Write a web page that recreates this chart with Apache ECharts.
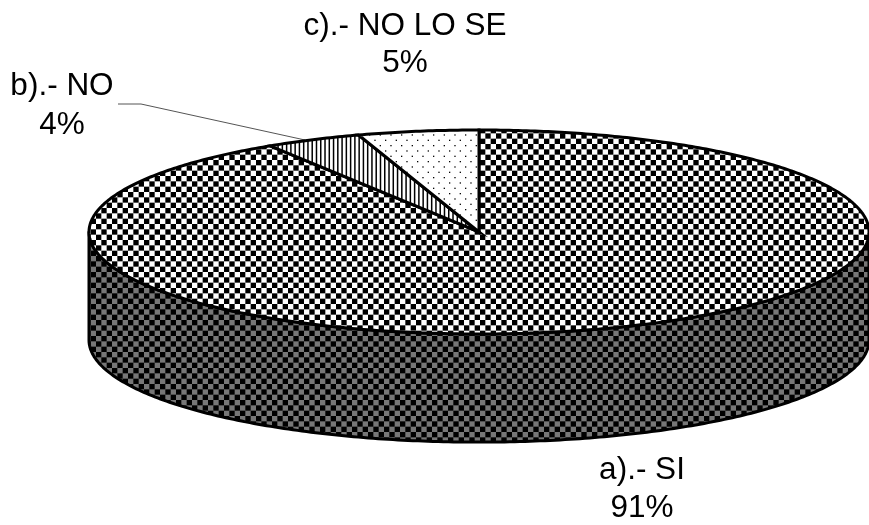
<!DOCTYPE html>
<html><head><meta charset="utf-8">
<style>html,body{margin:0;padding:0;background:#fff}#c{width:869px;height:525px}</style>
<script src="https://cdn.jsdelivr.net/npm/echarts@6/dist/echarts.min.js"></script>
</head><body><div id="c"></div>
<script>
const categories = ['a).- SI', 'b).- NO', 'c).- NO LO SE'];
const values = [91, 4, 5];
const depth = 1.06; // thickness of the disc, in axis units (1 = ellipse half height)

function tile(w, h, paint) {
  const cv = document.createElement('canvas');
  cv.width = w; cv.height = h;
  const g = cv.getContext('2d');
  g.fillStyle = '#fff'; g.fillRect(0, 0, w, h);
  paint(g);
  return { image: cv, repeat: 'repeat' };
}
function checker(dark, light) {
  const s = 16 / 3;
  return tile(32, 32, g => {
    g.fillStyle = light; g.fillRect(0, 0, 32, 32);
    g.fillStyle = dark;
    for (let i = 0; i < 6; i++) for (let j = 0; j < 6; j++)
      if ((i + j) % 2 === 0) g.fillRect(i * s, j * s, s, s);
  });
}
const topFill = checker('#000', '#fff');
const sideFill = checker('#000', '#777');
const stripeFill = tile(64, 4, g => {
  g.fillStyle = '#000';
  for (let i = 0; i < 15; i++) g.fillRect(i * 64 / 15, 0, 1.5, 4);
});
const dotFill = tile(32, 32, g => {
  g.fillStyle = '#000';
  const s = 16 / 3;
  for (let j = 0; j < 6; j++) for (let i = 0; i < 3; i++)
    g.fillRect((i + (j % 2) / 2) * 32 / 3 + 1, j * s + 1, 1.3, 1.3);
});
const sliceFills = [topFill, stripeFill, dotFill];

const total = values.reduce((a, b) => a + b, 0);
const seriesData = [];
let acc = 0;
values.forEach((v, i) => { seriesData.push([acc, acc + v, i]); acc += v; });

function renderSlice(params, api) {
  const from = api.value(0) / total * 2 * Math.PI;
  const to = api.value(1) / total * 2 * Math.PI;
  const idx = api.value(2);
  const pt = (a, drop) => api.coord([Math.sin(a), Math.cos(a) - (drop || 0)]);
  const pts = [];
  const n = Math.max(8, Math.ceil((to - from) * 90));
  for (let k = 0; k <= n; k++) pts.push(pt(from + (to - from) * k / n));
  pts.push(api.coord([0, 0]));
  const children = [];
  if (idx === 0) {
    const side = [];
    const m = 240;
    for (let k = 0; k <= m; k++) { const a = Math.PI / 2 + Math.PI * k / m; side.push(pt(a, 0)); }
    for (let k = m; k >= 0; k--) { const a = Math.PI / 2 + Math.PI * k / m; side.push(pt(a, depth)); }
    children.push({ type: 'polygon', shape: { points: side },
      style: { fill: sideFill, stroke: '#000', lineWidth: 3, lineJoin: 'round' } });
  }
  children.push({ type: 'polygon', shape: { points: pts },
    style: { fill: sliceFills[idx], stroke: '#000', lineWidth: 3, lineJoin: 'miter' } });
  return { type: 'group', children };
}

const font = { fontFamily: '"Liberation Sans", Arial, sans-serif', fontSize: 31.5, fill: '#000', align: 'center', verticalAlign: 'middle' };
const labelPlaces = [[642, 470, 508], [62, 86, 125], [405, 26, 63]];
const labelGraphics = [];
categories.forEach((c, i) => {
  const p = labelPlaces[i];
  labelGraphics.push({ type: 'text', x: p[0], y: p[1], style: Object.assign({ text: c }, font) });
  labelGraphics.push({ type: 'text', x: p[0], y: p[2], style: Object.assign({ text: values[i] + '%' }, font) });
});
labelGraphics.push({ type: 'polyline', shape: { points: [[118, 104], [141, 104], [305, 140]] },
  style: { stroke: '#555', lineWidth: 1, fill: null } });

const chart = echarts.init(document.getElementById('c'), null, { renderer: 'canvas' });
chart.setOption({
  animation: false,
  backgroundColor: '#fff',
  grid: { left: 89, top: 130, width: 784, height: 204 },
  xAxis: { type: 'value', min: -1, max: 1, show: false },
  yAxis: { type: 'value', min: -1, max: 1, show: false },
  series: [{ type: 'custom', coordinateSystem: 'cartesian2d', clip: false, silent: true,
    renderItem: renderSlice, encode: { x: 0, y: 1 }, data: seriesData }],
  graphic: labelGraphics
});
</script></body></html>
